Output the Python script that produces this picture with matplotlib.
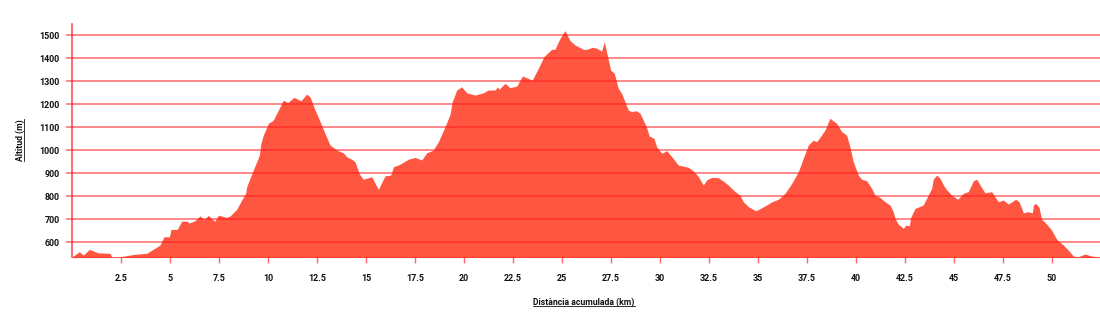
import matplotlib
matplotlib.use("Agg")
import matplotlib.pyplot as plt
from matplotlib.lines import Line2D

# Elevation profile (km, m)
km = [0.0, 0.37, 0.58, 0.88, 1.34, 1.94, 2.02, 2.45, 3.13, 3.81, 4.49, 4.69, 4.97,
      5.05, 5.37, 5.6, 5.85, 5.99, 6.28, 6.53, 6.73, 6.96, 7.28, 7.47, 7.89, 8.06,
      8.4, 8.66, 8.86, 8.91, 9.25, 9.56, 9.64, 9.76, 10.02, 10.27, 10.53, 10.78,
      11.0, 11.33, 11.68, 11.97, 12.14, 12.4, 12.65, 12.91, 13.16, 13.5, 13.84,
      14.01, 14.27, 14.44, 14.66, 14.86, 15.29, 15.63, 15.97, 16.26, 16.4, 16.73,
      17.16, 17.5, 17.84, 18.1, 18.43, 18.69, 19.03, 19.29, 19.4, 19.63, 19.88,
      20.14, 20.56, 20.99, 21.24, 21.58, 21.72, 21.79, 22.09, 22.35, 22.69, 22.98,
      23.48, 23.79, 24.08, 24.47, 24.64, 24.9, 25.15, 25.41, 25.66, 26.09, 26.26,
      26.56, 26.77, 27.02, 27.16, 27.36, 27.48, 27.67, 27.87, 28.04, 28.38, 28.55,
      28.78, 28.98, 29.29, 29.45, 29.69, 29.83, 30.09, 30.34, 30.6, 30.93, 31.19,
      31.44, 31.7, 31.95, 32.21, 32.38, 32.64, 32.97, 33.23, 33.48, 33.83, 34.08,
      34.25, 34.51, 34.88, 35.19, 35.44, 35.7, 36.04, 36.38, 36.72, 37.06, 37.31,
      37.57, 37.82, 37.99, 38.2, 38.42, 38.67, 39.01, 39.27, 39.52, 39.69, 39.86,
      40.12, 40.29, 40.54, 40.8, 40.97, 41.22, 41.48, 41.73, 41.9, 41.99, 42.16,
      42.41, 42.55, 42.72, 42.79, 43.01, 43.43, 43.6, 43.86, 43.94, 44.12, 44.29,
      44.46, 44.6, 44.88, 45.19, 45.48, 45.73, 45.99, 46.16, 46.33, 46.58, 46.92,
      47.26, 47.52, 47.77, 48.15, 48.32, 48.54, 48.76, 49.0, 49.05, 49.17, 49.34,
      49.47, 49.73, 49.98, 50.24, 50.58, 50.83, 51.09, 51.34, 51.68, 52.03, 52.45]
altitude = [535, 558, 543, 568, 553, 551, 536, 536, 546, 551, 587, 623, 623,
            655, 655, 691, 691, 683, 693, 714, 698, 716, 690, 717, 707, 713,
            742, 783, 812, 840, 913, 978, 1029, 1065, 1116, 1130, 1174, 1217,
            1206, 1229, 1214, 1243, 1232, 1174, 1125, 1072, 1022, 1000, 988,
            971, 960, 949, 896, 873, 884, 829, 888, 891, 927, 938,
            960, 968, 957, 988, 1000, 1036, 1101, 1156, 1210, 1261, 1275,
            1249, 1239, 1249, 1261, 1261, 1275, 1264, 1290, 1271, 1278, 1322,
            1304, 1355, 1406, 1438, 1438, 1486, 1519, 1476, 1457, 1438, 1438,
            1447, 1443, 1430, 1471, 1394, 1348, 1333, 1268, 1247, 1174, 1167,
            1171, 1160, 1104, 1061, 1051, 1014, 986, 997, 971, 935, 930,
            925, 910, 885, 848, 870, 881, 880, 865, 848, 819, 804,
            775, 754, 736, 749, 761, 775, 786, 812, 855, 906, 964,
            1022, 1043, 1036, 1060, 1087, 1138, 1116, 1080, 1065, 1014, 949,
            891, 873, 867, 833, 804, 794, 775, 761, 732, 703, 678,
            660, 674, 670, 707, 746, 761, 790, 833, 873, 891, 877,
            848, 830, 804, 786, 812, 819, 867, 873, 848, 814, 819,
            775, 783, 765, 786, 775, 727, 732, 727, 761, 768, 751,
            699, 678, 652, 612, 587, 565, 539, 536, 548, 539, 535]

x_ticks = [2.5, 5, 7.5, 10, 12.5, 15, 17.5, 20, 22.5, 25, 27.5, 30, 32.5, 35,
           37.5, 40, 42.5, 45, 47.5, 50]
x_tick_labels = ["2.5", "5", "7.5", "10", "12.5", "15", "17.5", "20", "22.5", "25",
                 "27.5", "30", "32.5", "35", "37.5", "40", "42.5", "45", "47.5", "50"]
y_ticks = [600, 700, 800, 900, 1000, 1100, 1200, 1300, 1400, 1500]

FILL = "#ff5641"
GRID = "#ff1a1a"

plt.rcParams["font.family"] = ["Roboto", "DejaVu Sans"]
plt.rcParams["font.weight"] = "bold"

fig = plt.figure(figsize=(11, 3.25), dpi=100)
ax = fig.add_axes([72 / 1100, 68 / 325, 1 - 72 / 1100, (257 - 24) / 325])

ymin = 535
ax.fill_between(km, altitude, ymin - 20, color=FILL, linewidth=0, zorder=1)

ax.set_xlim(0, 52.45)
ax.set_ylim(ymin, 1548)

ax.set_xticks(x_ticks)
ax.set_xticklabels(x_tick_labels)
ax.set_yticks(y_ticks)

for s in ["top", "right"]:
    ax.spines[s].set_visible(False)
ax.spines["left"].set_color(GRID)
ax.spines["left"].set_alpha(0.75)
ax.spines["left"].set_linewidth(1.2)
ax.spines["bottom"].set_color(GRID)
ax.spines["bottom"].set_alpha(0.4)
ax.spines["bottom"].set_linewidth(0.8)

ax.grid(axis="y", color=GRID, alpha=0.65, linewidth=1.1, zorder=2)
ax.set_axisbelow(False)

ax.tick_params(axis="y", length=4.5, width=1.1, color=(1, 0.1, 0.1, 0.65),
               labelsize=6.4, pad=4.5, labelcolor="#111111")
ax.tick_params(axis="x", length=4.5, width=1.0, color=(1, 0.1, 0.1, 0.65),
               labelsize=6.4, pad=7.5, labelcolor="#111111")
for lab in ax.get_xticklabels() + ax.get_yticklabels():
    lab.set_fontweight("bold")

xl = fig.text(584 / 1100, 1 - 302 / 325, "Distància acumulada (km)", ha="center",
              va="center", fontsize=6.2, fontweight="bold", color="#111111")
yl = fig.text(20 / 1100, 1 - 140 / 325, "Altitud (m)", ha="center", va="center",
              rotation=90, fontsize=6.2, fontweight="bold", color="#111111")

# underline the axis titles
fig.canvas.draw()
r = fig.canvas.get_renderer()
bx = xl.get_window_extent(r)
fig.add_artist(Line2D([bx.x0, bx.x1], [bx.y0 + 0.5, bx.y0 + 0.5], color="#111111",
                      linewidth=0.6, transform=None))
by = yl.get_window_extent(r)
fig.add_artist(Line2D([by.x1 - 0.5, by.x1 - 0.5], [by.y0, by.y1], color="#111111",
                      linewidth=0.6, transform=None))

fig.savefig("out.png", dpi=100)
